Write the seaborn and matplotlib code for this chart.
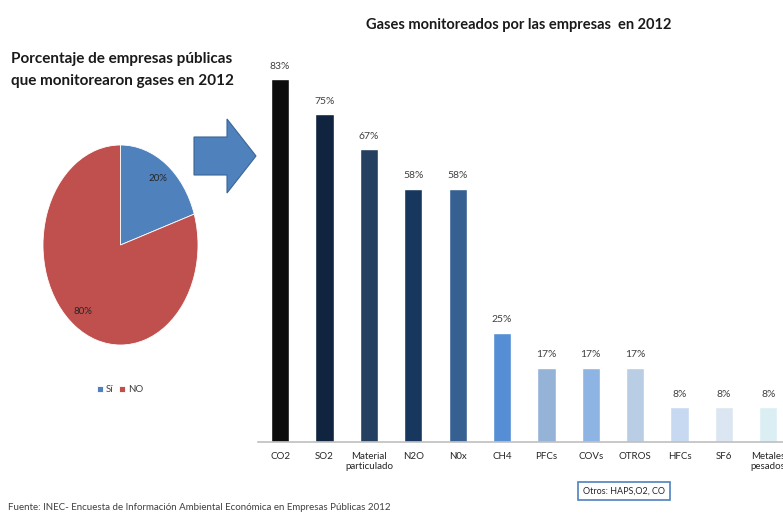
import matplotlib
matplotlib.use("Agg")
import matplotlib.pyplot as plt
import seaborn as sns
import pandas as pd
from matplotlib.patches import FancyArrow

sns.set_theme(style="white")
plt.rcParams["font.family"] = ["Lato", "DejaVu Sans"]

# Pie: share of public companies that monitored gases
pie_labels = ["Sí", "NO"]
pie_values = [20, 80]
pie_colors = ["#4F81BD", "#C0504D"]

# Bars: gases monitored by the companies
gases = ["CO2", "SO2", "Material\nparticulado", "N2O", "N0x", "CH4", "PFCs",
         "COVs", "OTROS", "HFCs", "SF6", "Metales\npesados"]
gas_pct = [83, 75, 67, 58, 58, 25, 17, 17, 17, 8, 8, 8]
bar_colors = ["#0D0D0D", "#10243F", "#243F60", "#17375E", "#376092", "#558ED5",
              "#95B3D7", "#8EB4E3", "#B9CDE5", "#C6D9F1", "#DCE6F2", "#DBEEF4"]

W, H = 783, 514
fig = plt.figure(figsize=(W / 100, H / 100), dpi=100)
fig.patch.set_facecolor("white")

# ---- pie chart (stretched vertically) ----
pax = fig.add_axes([43 / W, 1 - 345 / H, 155 / W, 200 / H])
wedges, _, autotexts = pax.pie(
    pie_values, colors=pie_colors, startangle=90, counterclock=False,
    autopct=lambda p: f"{p:.0f}%", pctdistance=0.82,
    wedgeprops=dict(linewidth=0.6, edgecolor="white"),
    textprops=dict(fontsize=7, color="#262626"))
pax.set_aspect("auto")
pax.set_xlim(-1, 1)
pax.set_ylim(-1, 1)
pax.axis("off")

leg = fig.legend(wedges, pie_labels, loc="center", bbox_to_anchor=(120 / W, 1 - 390 / H),
                 ncol=2, frameon=False, fontsize=7, handlelength=0.6, handleheight=0.6,
                 handletextpad=0.3, columnspacing=0.6)
for t in leg.get_texts():
    t.set_color("#404040")

fig.text(11 / W, 1 - 70 / H, "Porcentaje de empresas públicas\nque monitorearon gases en 2012",
         ha="left", va="center", fontsize=11, fontweight="bold", color="#1a1a1a",
         linespacing=1.75)

# ---- block arrow ----
fig.patches.append(FancyArrow(194 / W, 1 - 156 / H, 62 / W, 0, width=38 / H,
                              head_width=74 / H, head_length=29 / W,
                              length_includes_head=True, transform=fig.transFigure,
                              facecolor="#4F81BD", edgecolor="#3A6595", linewidth=0.8))

# ---- bar chart ----
bx0 = 258 / W
bax = fig.add_axes([bx0, 1 - 442 / H, 1 - bx0, (442 - 40) / H])
df = pd.DataFrame({"gas": gases, "pct": gas_pct})
sns.barplot(data=df, x="gas", y="pct", hue="gas", palette=bar_colors,
            legend=False, width=0.41, ax=bax, saturation=1)
for p, v in zip(bax.patches, gas_pct):
    bax.annotate(f"{v}%", (p.get_x() + p.get_width() / 2, v), xytext=(0, 6),
                 textcoords="offset points", ha="center", va="bottom",
                 fontsize=7.5, color="#404040")
bax.set_xlim(-0.5, (783 - 281) / 44.3)
bax.set_ylim(0, (442 - 40) / 4.37)
bax.set_xlabel("")
bax.set_ylabel("")
bax.set_yticks([])
for s in ["top", "right", "left"]:
    bax.spines[s].set_visible(False)
bax.spines["bottom"].set_color("#BFBFBF")
bax.spines["bottom"].set_linewidth(1.2)
bax.tick_params(axis="x", length=0, pad=7, labelsize=7, labelcolor="#262626")
bax.patch.set_alpha(0)

fig.text(519 / W, 1 - 25 / H, "Gases monitoreados por las empresas  en 2012",
         ha="center", va="center", fontsize=10.5, fontweight="bold", color="#1a1a1a")

# note box for the "OTROS" category
fig.text(624 / W, 1 - 491 / H, "Otros: HAPS,O2, CO", ha="center", va="center",
         fontsize=6.5, color="#262626",
         bbox=dict(boxstyle="square,pad=0.5", facecolor="white", edgecolor="#4F81BD",
                   linewidth=1.2))

fig.text(8 / W, 1 - 508 / H,
         "Fuente: INEC- Encuesta de Información Ambiental Económica en Empresas Públicas 2012",
         ha="left", va="center", fontsize=7, color="#404040")

fig.savefig("out.png", dpi=100, facecolor="white")
